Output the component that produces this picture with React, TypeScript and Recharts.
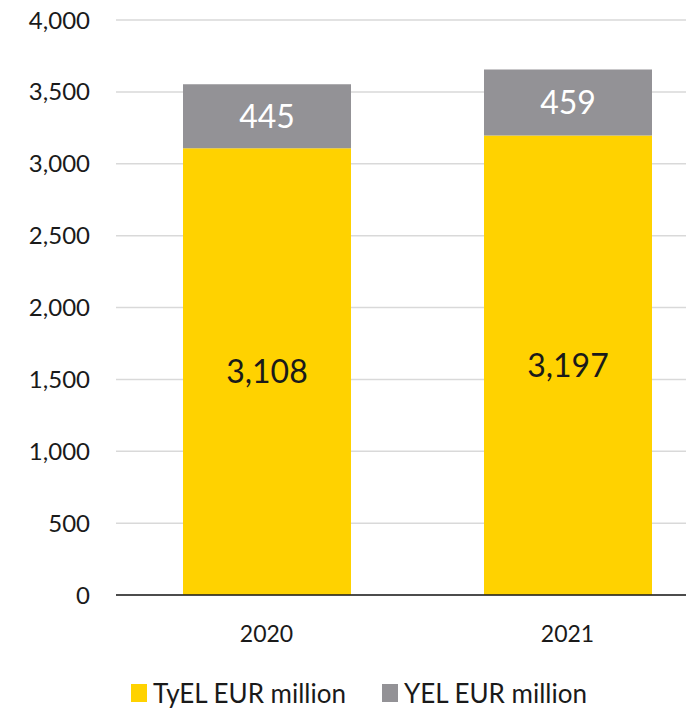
import React from "react";
import {
  BarChart,
  Bar,
  XAxis,
  YAxis,
  CartesianGrid,
  Legend,
  LabelList,
} from "recharts";

const years = ["2020", "2021"];
const tyel = [3108, 3197];
const yel = [445, 459];
const yTicks = [0, 500, 1000, 1500, 2000, 2500, 3000, 3500, 4000];

const seriesNames = { tyel: "TyEL EUR million", yel: "YEL EUR million" };
const colors = { tyel: "#FFD200", yel: "#939296" };

const data = years.map((y, i) => ({ year: y, tyel: tyel[i], yel: yel[i] }));

const fmt = (v: any) => Number(v).toLocaleString("en-US");

const LegendBox = () => (
  <div
    style={{
      display: "flex",
      justifyContent: "center",
      alignItems: "center",
      height: 36,
      paddingTop: 14,
      fontSize: 26,
      color: "#1a1a1a",
    }}
  >
    {(["tyel", "yel"] as const).map((k, i) => (
      <div
        key={k}
        style={{ display: "flex", alignItems: "center", marginLeft: i ? 36 : 0 }}
      >
        <span
          style={{
            width: 16,
            height: 18,
            background: colors[k],
            display: "inline-block",
            marginRight: 6,
          }}
        />
        <span>{seriesNames[k]}</span>
      </div>
    ))}
  </div>
);

export default function App() {
  return (
    <div
      style={{
        margin: "-8px 0 0 -8px",
        width: 694,
        height: 711,
        overflow: "hidden",
        fontFamily: "Lato, 'Open Sans', sans-serif",
        background: "#fff",
      }}
    >
      <BarChart
        width={718}
        height={711}
        data={data}
        margin={{ top: 20, right: 0, left: 0, bottom: 0 }}
      >
        <CartesianGrid vertical={false} stroke="#d9d9d9" strokeWidth={1.5} />
        <XAxis
          dataKey="year"
          axisLine={{ stroke: "#1a1a1a", strokeWidth: 1.5 }}
          tickLine={false}
          tickMargin={25}
          height={66}
          tick={{ fill: "#1a1a1a", fontSize: 23 }}
        />
        <YAxis
          width={116}
          domain={[0, 4000]}
          ticks={yTicks}
          axisLine={false}
          tickLine={false}
          tickMargin={20}
          tickFormatter={fmt}
          tick={{ fill: "#1a1a1a", fontSize: 24 }}
        />
        <Legend verticalAlign="bottom" content={<LegendBox />} />
        <Bar
          dataKey="tyel"
          stackId="a"
          fill={colors.tyel}
          barSize={168}
          isAnimationActive={false}
        >
          <LabelList
            dataKey="tyel"
            position="center"
            formatter={fmt}
            fill="#1a1a1a"
            fontSize={32}
          />
        </Bar>
        <Bar
          dataKey="yel"
          stackId="a"
          fill={colors.yel}
          barSize={168}
          isAnimationActive={false}
        >
          <LabelList
            dataKey="yel"
            position="center"
            formatter={fmt}
            fill="#ffffff"
            fontSize={32}
          />
        </Bar>
      </BarChart>
    </div>
  );
}
